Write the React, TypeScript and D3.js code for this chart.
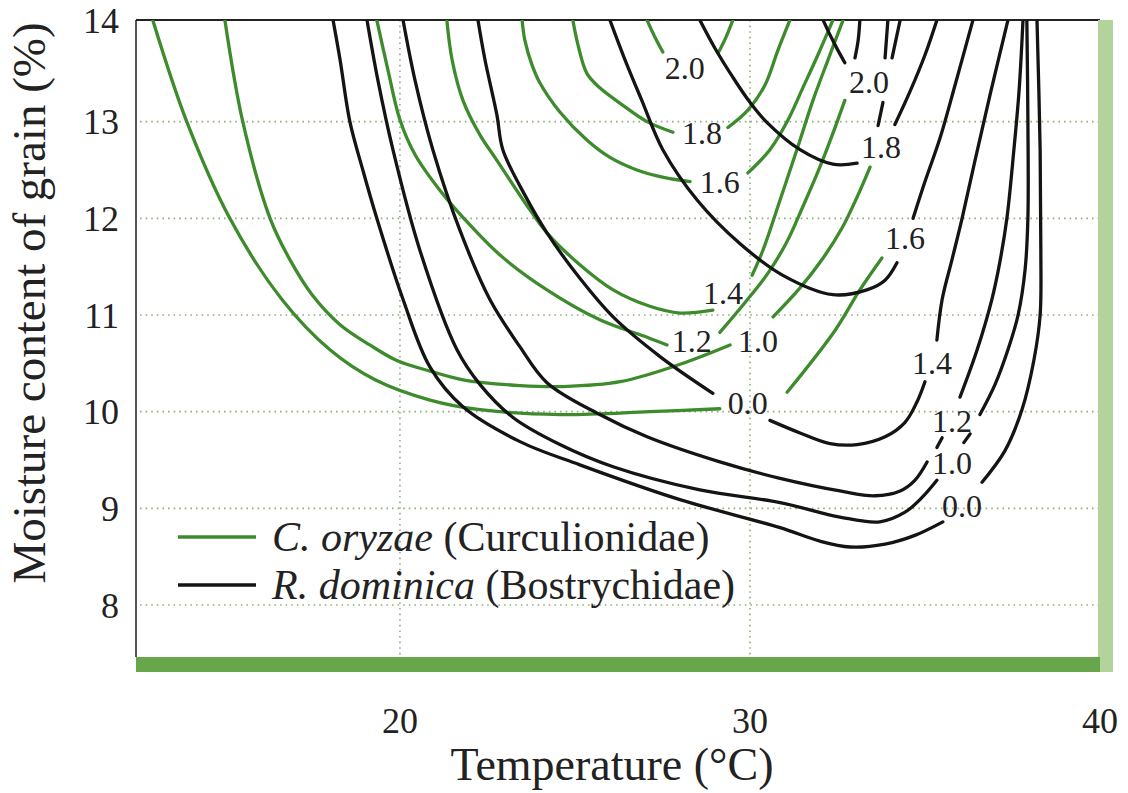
import { useEffect, useRef } from 'react';
import * as d3 from 'd3';

type Pt = [number, number];

// [temperature °C, moisture %]; each level is split into pieces where the drawing leaves a gap
const levels = ['0.0', '1.0', '1.2', '1.4', '1.6', '1.8', '2.0'];

// C. oryzae (green)
const oryzae00: Pt[][] = [
  [[12.94, 14.05], [13.91, 13.0], [15.14, 12.0], [16.63, 11.16], [18.0, 10.64], [19.29, 10.33], [20.86, 10.12], [22.29, 10.02], [24.57, 9.97], [27.14, 10.0], [29.14, 10.03]],
  [[31.06, 10.2], [32.43, 10.84], [33.14, 11.26], [33.77, 11.59]],
];
const oryzae10: Pt[][] = [
  [[15.0, 14.05], [15.51, 13.0], [16.29, 12.0], [16.86, 11.57], [17.49, 11.21], [18.29, 10.9], [19.14, 10.69], [19.91, 10.53], [20.86, 10.42], [21.8, 10.33], [23.43, 10.27], [24.66, 10.26], [26.29, 10.31], [28.0, 10.49], [29.43, 10.69]],
  [[30.66, 10.98], [31.43, 11.28], [32.09, 11.59], [32.63, 11.9], [33.06, 12.22], [33.43, 12.53]],
];
const oryzae12: Pt[][] = [
  [[19.34, 14.05], [19.66, 13.53], [20.0, 13.02], [20.43, 12.66], [21.14, 12.29], [21.8, 12.01], [22.86, 11.62], [24.2, 11.26], [25.71, 10.95], [27.06, 10.77], [27.63, 10.69]],
  [[29.14, 10.82], [29.86, 11.13], [30.51, 11.43], [31.06, 11.76], [31.51, 12.12], [31.94, 12.48], [32.34, 12.85], [32.71, 13.22]],
];
const oryzae14: Pt[][] = [
  [[21.34, 14.05], [21.49, 13.64], [21.8, 13.22], [22.29, 12.86], [22.77, 12.6], [23.71, 12.09], [24.2, 11.85], [25.14, 11.52], [26.09, 11.26], [27.14, 11.09], [28.0, 11.02], [28.94, 11.05]],
  [[30.06, 11.41], [30.37, 11.67], [30.86, 12.19], [31.34, 12.71], [31.8, 13.22], [32.23, 13.64], [32.66, 14.05]],
];
const oryzae16: Pt[][] = [
  [[23.49, 14.05], [23.57, 13.84], [23.77, 13.59], [24.0, 13.4], [24.57, 13.1], [25.34, 12.81], [26.0, 12.63], [26.77, 12.5], [27.57, 12.42], [28.29, 12.38]],
  [[29.94, 12.47], [30.57, 12.71], [31.09, 13.02], [31.51, 13.35], [31.94, 13.69], [32.37, 14.05]],
];
const oryzae18: Pt[][] = [
  [[24.94, 14.05], [25.09, 13.79], [25.34, 13.5], [25.71, 13.35], [26.29, 13.19], [27.06, 13.0], [27.8, 12.89]],
  [[29.37, 12.94], [29.94, 13.12], [30.43, 13.38], [30.8, 13.74], [31.14, 14.05]],
];
const oryzae20: Pt[][] = [
  [[27.06, 14.05], [27.29, 13.87], [27.51, 13.72]],
  [[29.09, 13.71], [29.31, 13.87], [29.51, 14.05]],
];

// R. dominica (black)
const dominica00: Pt[][] = [
  [[18.09, 14.05], [18.29, 13.64], [18.57, 13.0], [18.94, 12.5], [19.34, 12.0], [20.09, 11.16], [20.86, 10.46], [21.8, 10.05], [23.43, 9.69], [25.14, 9.45], [28.0, 9.09], [30.86, 8.8], [32.0, 8.66], [32.86, 8.6], [33.86, 8.63], [34.71, 8.72], [35.51, 8.86]],
  [[36.63, 9.27], [37.29, 9.6], [37.77, 10.02], [38.11, 10.53], [38.29, 11.0], [38.31, 11.67], [38.29, 12.71], [38.2, 14.05]],
];
const dominica10: Pt[][] = [
  [[19.06, 14.05], [19.37, 13.43], [19.8, 12.71], [20.57, 11.67], [21.63, 10.64], [22.29, 10.28], [23.23, 9.94], [24.57, 9.66], [26.09, 9.43], [28.57, 9.19], [30.86, 9.06], [32.57, 8.91], [33.71, 8.86], [34.43, 8.96], [34.91, 9.11], [35.34, 9.29]],
  [[36.11, 9.68], [36.29, 9.77]],
  [[36.57, 9.97], [37.0, 10.28], [37.37, 10.64], [37.66, 11.0], [37.86, 11.47], [37.94, 12.0], [37.94, 13.02], [37.91, 14.05]],
];
const dominica12: Pt[][] = [
  [[20.09, 14.05], [20.43, 13.43], [20.94, 12.71], [21.71, 11.88], [22.57, 11.16], [23.43, 10.67], [24.2, 10.3], [25.71, 9.97], [27.06, 9.74], [29.14, 9.48], [30.86, 9.31], [32.57, 9.18], [33.57, 9.13], [34.29, 9.18], [34.71, 9.29], [35.06, 9.48]],
  [[35.34, 9.63], [35.49, 9.73]],
  [[36.0, 10.15], [36.49, 10.64], [36.91, 11.16], [37.14, 11.55], [37.34, 12.0], [37.54, 12.71], [37.69, 13.33], [37.8, 14.05]],
];
const dominica14: Pt[][] = [
  [[22.23, 14.05], [22.43, 13.64], [22.77, 13.07], [22.94, 12.71], [23.57, 12.24], [24.2, 11.85], [25.14, 11.38], [26.09, 10.98], [27.43, 10.57], [28.94, 10.19]],
  [[30.57, 9.91], [31.43, 9.78], [32.29, 9.67], [33.06, 9.66], [33.86, 9.74], [34.43, 9.89], [34.77, 10.1], [35.0, 10.31]],
  [[35.34, 10.74], [35.49, 11.16], [35.77, 11.57], [36.06, 12.0], [36.43, 12.6], [36.86, 13.28], [37.37, 14.05]],
];
const dominica16: Pt[][] = [
  [[26.0, 14.05], [26.43, 13.64], [26.91, 13.22], [27.51, 12.71], [28.49, 12.19], [29.71, 11.74], [30.94, 11.41], [32.37, 11.21], [33.34, 11.26], [33.86, 11.36], [34.2, 11.54]],
  [[34.66, 12.0], [35.0, 12.38], [35.43, 12.83], [35.86, 13.38], [36.37, 14.05]],
];
const dominica18: Pt[][] = [
  [[28.57, 14.05], [29.0, 13.76], [29.51, 13.46], [30.0, 13.2], [30.49, 12.99], [31.43, 12.71], [32.37, 12.56], [33.06, 12.57]],
  [[33.66, 12.96], [33.8, 13.2]],
  [[33.86, 13.66], [33.94, 14.05]],
  [[34.14, 12.97], [34.57, 13.31], [35.0, 13.69], [35.34, 14.05]],
];
const dominica20: Pt[][] = [
  [[32.09, 14.05], [32.31, 13.88], [32.51, 13.74], [32.71, 13.61]],
  [[33.0, 13.66], [33.09, 13.84], [33.14, 14.05]],
  [[34.06, 13.66], [34.29, 14.05]],
];

const oryzaeLevels = [oryzae00, oryzae10, oryzae12, oryzae14, oryzae16, oryzae18, oryzae20];
const dominicaLevels = [dominica00, dominica10, dominica12, dominica14, dominica16, dominica18, dominica20];

// label centres, same order as levels
const oryzaeLabelPos: Pt[] = [[29.94, 10.09], [30.23, 10.74], [28.34, 10.74], [29.23, 11.23], [29.14, 12.38], [28.63, 12.89], [28.14, 13.56]];
const dominicaLabelPos: Pt[] = [[36.06, 9.03], [35.77, 9.47], [35.77, 9.91], [35.2, 10.51], [34.43, 11.8], [33.74, 12.74], [33.4, 13.42]];

const xTicks = [20, 30, 40];
const yTicks = [8, 9, 10, 11, 12, 13, 14];

const GREEN = '#3d8b2c';
const BLACK = '#141414';
const FONT = '"Liberation Serif", "Times New Roman", serif';

const legendItems = [
  { genus: 'C. oryzae', family: ' (Curculionidae)', color: GREEN },
  { genus: 'R. dominica', family: ' (Bostrychidae)', color: BLACK },
];

const App = () => {
  const svgRef = useRef<SVGSVGElement>(null);

  useEffect(() => {
    if (!svgRef.current) return;
    const svg = d3.select(svgRef.current);
    svg.selectAll('*').remove();

    const left = 136, right = 1100, top = 20, bottom = 657;
    const x = d3.scaleLinear().domain([12.46, 40]).range([left, right]);
    const y = d3.scaleLinear().domain([8, 14]).range([605, 25]);

    svg.append('rect').attr('width', 1128).attr('height', 793).attr('fill', '#fff');

    svg.append('defs').append('clipPath').attr('id', 'plot')
      .append('rect').attr('x', left).attr('y', top).attr('width', right - left).attr('height', bottom - top);

    // dotted grid
    const grid = svg.append('g').attr('stroke', '#8fb07a').attr('stroke-width', 1.6)
      .attr('stroke-dasharray', '1.6 4');
    grid.selectAll('line.h').data(yTicks.filter(d => d < 14)).enter().append('line')
      .attr('x1', left + 4).attr('x2', right).attr('y1', d => y(d)).attr('y2', d => y(d));
    grid.selectAll('line.v').data(xTicks.filter(d => d < 40)).enter().append('line')
      .attr('x1', d => x(d)).attr('x2', d => x(d)).attr('y1', top).attr('y2', bottom);

    // frame
    svg.append('line').attr('x1', left).attr('x2', left).attr('y1', top).attr('y2', bottom)
      .attr('stroke', '#555').attr('stroke-width', 2);
    svg.append('line').attr('x1', left).attr('x2', right).attr('y1', top).attr('y2', top)
      .attr('stroke', '#222').attr('stroke-width', 2);

    const line = d3.line<Pt>()
      .x(d => x(d[0]))
      .y(d => y(d[1]))
      .curve(d3.curveCatmullRom.alpha(0.5));

    const plot = svg.append('g').attr('clip-path', 'url(#plot)');
    const drawSet = (sets: Pt[][][], color: string) => {
      plot.append('g').selectAll('path')
        .data(sets.flat())
        .enter().append('path')
        .attr('d', d => line(d))
        .attr('fill', 'none')
        .attr('stroke', color)
        .attr('stroke-width', 3.3)
        .attr('stroke-linecap', 'round');
    };
    drawSet(oryzaeLevels, GREEN);
    drawSet(dominicaLevels, BLACK);

    // contour labels
    const labels = svg.append('g').style('font-family', FONT).attr('font-size', 32)
      .attr('fill', '#222').attr('text-anchor', 'middle');
    const addLabels = (pos: Pt[]) => {
      labels.append('g').selectAll('text').data(pos).enter().append('text')
        .attr('x', d => x(d[0])).attr('y', d => y(d[1])).attr('dy', '0.36em')
        .text((_, i) => levels[i]);
    };
    addLabels(oryzaeLabelPos);
    addLabels(dominicaLabelPos);

    // legend
    const legend = svg.append('g').style('font-family', FONT).attr('font-size', 42).attr('fill', '#222');
    legendItems.forEach((item, i) => {
      const ly = 537 + i * 48;
      legend.append('line').attr('x1', 178).attr('x2', 256).attr('y1', ly).attr('y2', ly)
        .attr('stroke', item.color).attr('stroke-width', 3.3);
      const t = legend.append('text').attr('x', 272).attr('y', ly).attr('dy', '0.33em');
      t.append('tspan').attr('font-style', 'italic').text(item.genus);
      t.append('tspan').text(item.family);
    });

    // coloured bars
    svg.append('rect').attr('x', right - 2).attr('y', top).attr('width', 15).attr('height', 672 - top)
      .attr('fill', '#b2d39c');
    svg.append('rect').attr('x', left).attr('y', bottom).attr('width', right - left).attr('height', 15)
      .attr('fill', '#68a64c');

    // tick labels
    const ticks = svg.append('g').style('font-family', FONT).attr('font-size', 36).attr('fill', '#222');
    ticks.selectAll('text.x').data(xTicks).enter().append('text')
      .attr('x', d => x(d)).attr('y', 733).attr('text-anchor', 'middle').text(d => d);
    ticks.selectAll('text.y').data(yTicks).enter().append('text')
      .attr('x', 119).attr('y', d => (d === 14 ? 20 : y(d))).attr('dy', '0.35em')
      .attr('text-anchor', 'end').text(d => d);

    // axis titles
    svg.append('text').attr('x', 612).attr('y', 780).attr('text-anchor', 'middle')
      .style('font-family', FONT).attr('font-size', 46).attr('fill', '#222')
      .text('Temperature (°C)');
    svg.append('text').attr('transform', 'translate(45,303) rotate(-90)').attr('text-anchor', 'middle')
      .style('font-family', FONT).attr('font-size', 47).attr('fill', '#222')
      .text('Moisture content of grain (%)');
  }, []);

  return (
    <svg ref={svgRef} width={1128} height={793} viewBox="0 0 1128 793"
      style={{ position: 'absolute', left: 0, top: 0, display: 'block' }} />
  );
};

export default App;
